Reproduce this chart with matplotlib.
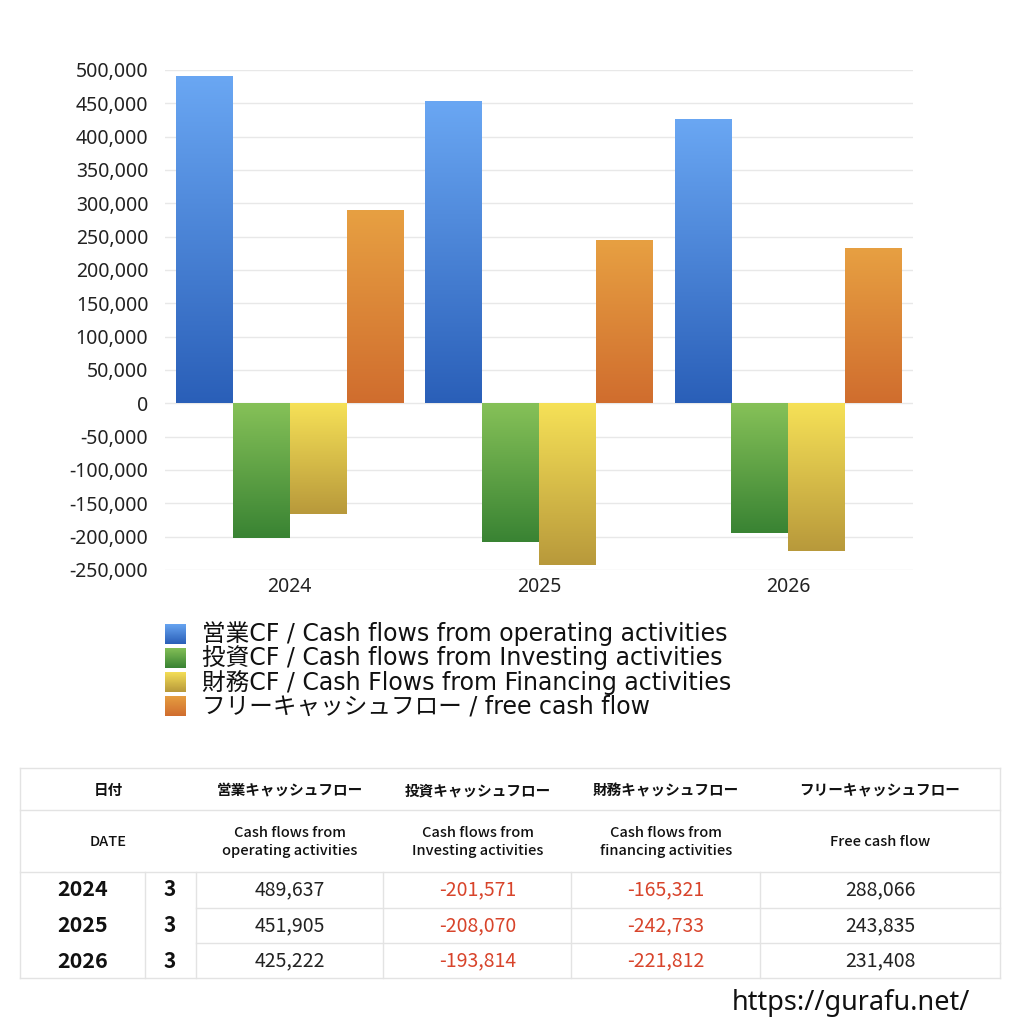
import numpy as np
import matplotlib
matplotlib.use("Agg")
import matplotlib.pyplot as plt
from matplotlib.colors import LinearSegmentedColormap
from matplotlib.lines import Line2D
from matplotlib.ticker import FuncFormatter

wide = ['Noto Sans', 'Noto Sans CJK JP', 'DejaVu Sans']
narrow = ['Noto Sans CJK JP', 'DejaVu Sans']
legend_font = ['DejaVu Sans', 'Noto Sans CJK JP']
plt.rcParams['font.family'] = wide

years = ['2024', '2025', '2026']
months = ['3', '3', '3']
operating = [489637, 451905, 425222]
investing = [-201571, -208070, -193814]
financing = [-165321, -242733, -221812]
free_cf = [288066, 243835, 231408]

series_names = ['営業CF / Cash flows from operating activities',
                '投資CF / Cash flows from Investing activities',
                '財務CF / Cash Flows from Financing activities',
                'フリーキャッシュフロー / free cash flow']
# (top colour, bottom colour)
grads = [('#6aa7f3', '#2a5fb8'),
         ('#86c158', '#398333'),
         ('#f6e157', '#b8993b'),
         ('#e7a042', '#d06d2e')]

head_jp = ['日付', '営業キャッシュフロー', '投資キャッシュフロー', '財務キャッシュフロー', 'フリーキャッシュフロー']
head_en = ['DATE', 'Cash flows from\noperating activities', 'Cash flows from\nInvesting activities',
           'Cash flows from\nfinancing activities', 'Free cash flow']

W = H = 1024
fig = plt.figure(figsize=(10.24, 10.24), dpi=100)


def fx(px):
    return px / W


def fy(py):
    return 1 - py / H


ax = fig.add_axes([fx(165), fy(570), fx(913) - fx(165), fy(70) - fy(570)])
data = [operating, investing, financing, free_cf]
x = np.arange(len(years))
bw = 0.228
for i, vals in enumerate(data):
    cmap = LinearSegmentedColormap.from_list('g%d' % i, [grads[i][1], grads[i][0]])
    bars = ax.bar(x + (i - 1.5) * bw, vals, bw, color='none', zorder=2)
    for r in bars:
        x0, w = r.get_x(), r.get_width()
        y0, y1 = sorted([r.get_y(), r.get_y() + r.get_height()])
        g = np.linspace(0, 1, 256).reshape(-1, 1)
        ax.imshow(g, extent=[x0, x0 + w, y0, y1], origin='lower', aspect='auto',
                  cmap=cmap, zorder=2, interpolation='bicubic')

ax.set_xlim(-0.5, 2.5)
ax.set_ylim(-250000, 500000)
ax.set_yticks(np.arange(-250000, 500001, 50000))
ax.yaxis.set_major_formatter(FuncFormatter(lambda v, p: f'{int(v):,}'))
ax.set_xticks(x)
ax.set_xticklabels(years)
ax.grid(axis='y', color='#e8e8e8', linewidth=1, zorder=0)
ax.set_axisbelow(True)
for s in ax.spines.values():
    s.set_visible(False)
ax.tick_params(axis='both', length=0, labelsize=14, colors='#222222')
ax.tick_params(axis='y', pad=12)
ax.tick_params(axis='x', pad=5)

# legend
leg_y = [634, 658, 682, 706]
for i, name in enumerate(series_names):
    cmap = LinearSegmentedColormap.from_list('l%d' % i, [grads[i][1], grads[i][0]])
    la = fig.add_axes([fx(165), fy(leg_y[i] + 10.5), fx(21), 21 / H])
    la.imshow(np.linspace(0, 1, 64).reshape(-1, 1), origin='lower', aspect='auto', cmap=cmap)
    la.axis('off')
    fig.text(fx(202), fy(leg_y[i]), name, fontsize=17, va='center', ha='left', color='#111111',
             family=legend_font)

# table
lc = '#e3e3e3'


def hline(y, x0, x1):
    fig.add_artist(Line2D([fx(x0), fx(x1)], [fy(y), fy(y)], color=lc, linewidth=1))


def vline(xp, y0, y1):
    fig.add_artist(Line2D([fx(xp), fx(xp)], [fy(y0), fy(y1)], color=lc, linewidth=1))


for yy in [768, 810, 872, 978]:
    hline(yy, 20, 1000)
for yy in [908, 943]:
    hline(yy, 196, 1000)
vline(20, 768, 978)
vline(1000, 768, 978)
for xp in [145, 196, 383, 571, 760]:
    vline(xp, 872, 978)

col_x = [108, 290, 478, 666, 880]
for cx, t in zip(col_x, head_jp):
    fig.text(fx(cx), fy(790), t, fontsize=10.5, weight='bold', ha='center', va='center',
             color='#111111', family=narrow)
for cx, t in zip(col_x, head_en):
    fig.text(fx(cx), fy(842), t, fontsize=10.5, ha='center', va='center', color='#111111',
             linespacing=1.45, weight='medium', family=narrow)

row_y = [890, 926, 961]
for j in range(len(years)):
    fig.text(fx(83), fy(row_y[j]), years[j], fontsize=15.5, weight='bold', ha='center', va='center',
             color='#111111', family=narrow)
    fig.text(fx(170), fy(row_y[j]), months[j], fontsize=15, weight='bold', ha='center', va='center',
             color='#111111', family=narrow)
    for k, vals in enumerate(data):
        v = vals[j]
        fig.text(fx(col_x[k + 1]), fy(row_y[j]), f'{v:,}', fontsize=14, ha='center', va='center',
                 color='#d8442b' if v < 0 else '#222222', family=narrow)

fig.text(fx(970), fy(1003), 'https://gurafu.net/', fontsize=19.5, ha='right', va='center', color='#111111')

fig.savefig('out.png', dpi=100, facecolor='white')
